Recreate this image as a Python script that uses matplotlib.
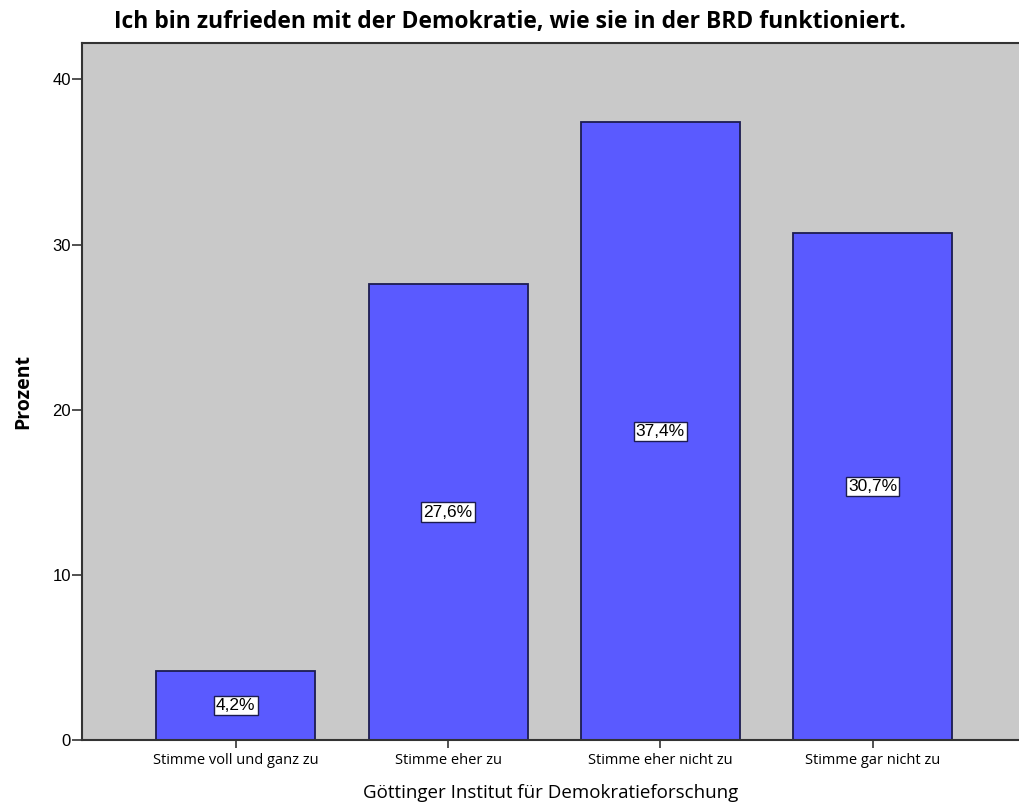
import matplotlib.pyplot as plt
import numpy as np

# Umfragewerte in Prozent
kategorien = ["Stimme voll und ganz zu", "Stimme eher zu", "Stimme eher nicht zu", "Stimme gar nicht zu"]
prozent = [4.2, 27.6, 37.4, 30.7]
y_ticks = [0, 10, 20, 30, 40]

fig = plt.figure(figsize=(10.19, 8.07), dpi=100)
ax = fig.add_axes([82 / 1019, 1 - 740 / 807, 1 - 82 / 1019, (740 - 43) / 807])
ax.set_facecolor("#c9c9c9")

x = np.arange(len(kategorien))
bars = ax.bar(x, prozent, width=0.75, color="#5a5aff", edgecolor="#1c1c50", linewidth=1.3, zorder=2)

# Wertebeschriftung mittig im Balken
for xi, val in zip(x, prozent):
    ax.text(xi, val / 2, f"{val:.1f}%".replace(".", ","), ha="center", va="center",
            fontsize=12.5, family="Liberation Sans", zorder=3,
            bbox=dict(boxstyle="square,pad=0.12", facecolor="white", edgecolor="#1c1c50", linewidth=1))

ax.set_xlim(-0.725, 3.69)
ax.set_ylim(0, 42.2)
ax.set_yticks(y_ticks)
ax.set_yticklabels([str(t) for t in y_ticks], fontsize=12, family="Liberation Sans")
ax.set_xticks(x)
ax.set_xticklabels(kategorien, fontsize=10.5, family="Open Sans")
ax.tick_params(axis="y", direction="out", length=7, width=1.2, color="#333333", pad=1)
ax.tick_params(axis="x", direction="out", length=6, width=1.2, color="#333333", pad=3)

for side in ["left", "bottom", "top"]:
    ax.spines[side].set_color("#333333")
    ax.spines[side].set_linewidth(1.5)
ax.spines["right"].set_visible(False)

ax.set_ylabel("Prozent", fontsize=14, fontweight="bold", family="Open Sans", labelpad=14)
ax.set_xlabel("Göttinger Institut für Demokratieforschung", fontsize=13.5, family="Open Sans", labelpad=12)
fig.text(0.5, 1 - 22 / 807, "Ich bin zufrieden mit der Demokratie, wie sie in der BRD funktioniert.",
         ha="center", va="center", fontsize=16.5, fontweight="bold", family="Open Sans")

plt.savefig("out.png", dpi=100)
